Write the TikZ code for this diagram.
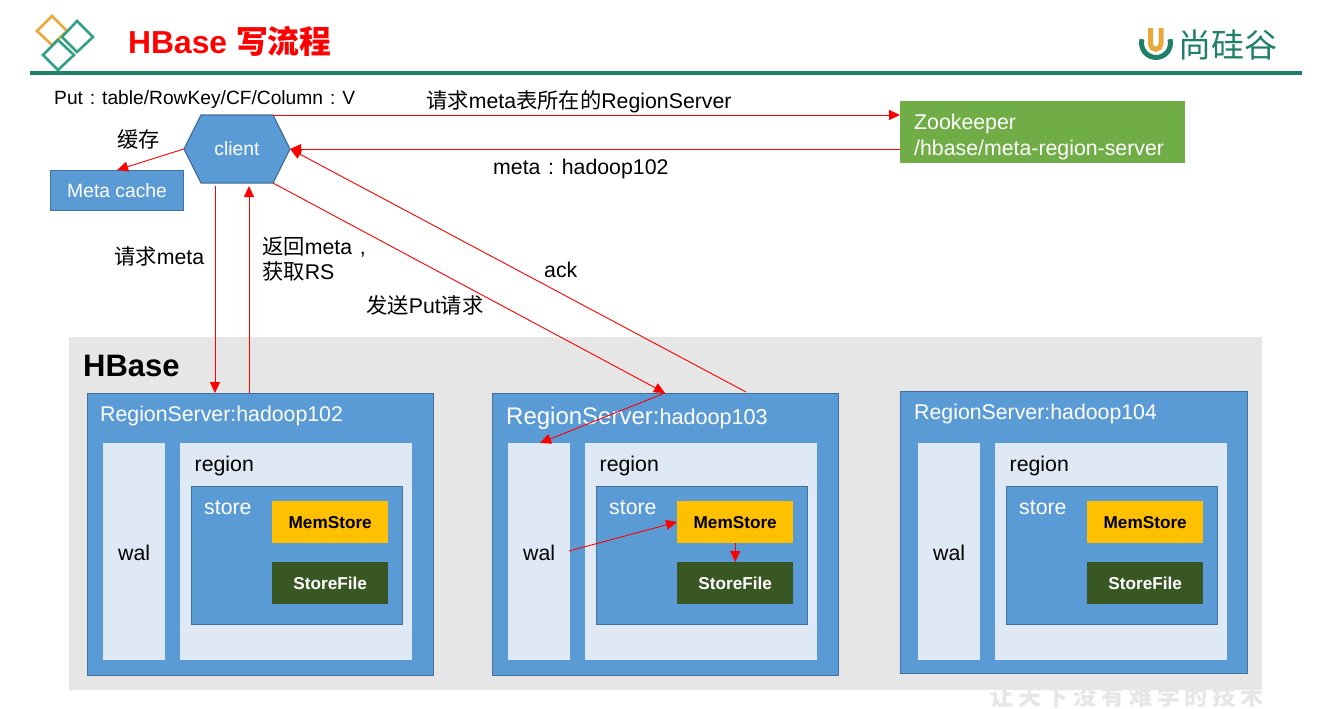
\documentclass[tikz,border=0pt]{standalone}
\usepackage{fontspec}
\setmainfont{Liberation Sans}
\newfontfamily\zh{Noto Sans CJK SC}
\newcommand{\widecolon}{\makebox[1em][c]{:}}
\newcommand{\widecomma}{\makebox[1em][c]{,}}
\usetikzlibrary{arrows.meta}
\definecolor{boxblue}{HTML}{5B9BD5}
\definecolor{boxedge}{HTML}{41719C}
\definecolor{boxlight}{HTML}{DEE9F5}
\definecolor{boxgrey}{HTML}{E7E6E6}
\definecolor{memyellow}{HTML}{FFC000}
\definecolor{filegreen}{HTML}{385723}
\definecolor{zkgreen}{HTML}{70AD47}
\definecolor{logoteal}{HTML}{1F7F68}
\definecolor{logomark}{HTML}{35A088}
\definecolor{logoorange}{HTML}{E8A93A}
\definecolor{marktext}{HTML}{E6E6E6}
\tikzset{
    label text/.style={anchor=west, inner sep=0pt, font=\fontsize{21.3}{21.3}\selectfont},
    white text/.style={label text, text=white},
    blue box/.style={draw=boxedge, fill=boxblue, line width=1.2pt, anchor=north west, inner sep=0pt},
    light box/.style={fill=boxlight, anchor=north west, inner sep=0pt},
    bold box/.style={anchor=north west, inner sep=0pt, minimum width=116pt, minimum height=42pt, font=\fontsize{17.2}{17.2}\selectfont\bfseries},
    flow/.style={draw=red, line width=0.9pt, -{Triangle[length=11pt,width=10pt]}},
    pics/server inner/.style={
        code={
            \node[light box, minimum width=62pt, minimum height=217pt] (-wal) at (0,0) {};
            \node[light box, minimum width=232pt, minimum height=217pt] (-region) at (77,0) {};
            \node[blue box, minimum width=211pt, minimum height=138pt] (-store) at (87.5,43) {};
            \node[bold box, fill=memyellow] (-mem) at (169,58) {MemStore};
            \node[bold box, fill=filegreen, text=white] (-file) at (169,119) {StoreFile};
            \node[label text] (-waltext) at (15,110) {wal};
            \node[label text] (-regiontext) at (91.5,23) {region};
            \node[white text] (-storetext) at (101,65) {store};
        }},
}
\begin{document}
\begin{tikzpicture}[x=1pt, y=-1pt]

    \useasboundingbox (0,0) rectangle (1320,709);

    % title bar
    \draw[logoorange, line width=2.6pt] (52,16) -- (67,31) -- (52,45) -- (37,31) -- cycle;
    \draw[logomark, line width=2.6pt] (77,21) -- (93,37) -- (77,52) -- (62,37) -- cycle;
    \draw[logomark, line width=2.6pt] (58,40) -- (74,55) -- (58,70) -- (43,55) -- cycle;
    \fill[logoteal] (30,71) rectangle (1302,75);
    \node[anchor=west, inner sep=0pt, text=red, font=\fontsize{31.8}{31.8}\selectfont\bfseries] (title) at (128,41) {HBase {\zh\bfseries 写流程}};

    \draw[logoteal, line width=5pt] (1142,39.2) arc [start angle=195, end angle=-15, radius=14.5];
    \draw[logoorange, line width=5pt] (1150.5,28) -- (1150.5,44) arc [start angle=180, end angle=0, radius=5.25] -- (1161,28);
    \node[anchor=west, inner sep=0pt, text=logoteal, font=\zh\fontsize{33}{33}\selectfont] (brand) at (1178,45) {尚硅谷};

    % hbase area
    \fill[boxgrey] (69,337) rectangle (1262,690);
    \node[anchor=west, inner sep=0pt, font=\fontsize{31}{31}\selectfont\bfseries] (hbase) at (83,366) {HBase};

    \node[blue box, minimum width=346pt, minimum height=282pt] (rsa) at (87,393) {};
    \node[blue box, minimum width=346pt, minimum height=282pt] (rsb) at (492,393) {};
    \node[blue box, minimum width=347pt, minimum height=282pt] (rsc) at (900,391) {};

    \node[white text] (rsatext) at (100,416) {RegionServer:hadoop102};
    \node[white text] (rsbtext) at (506,418.5) {\fontsize{24}{24}\selectfont RegionServer:\fontsize{21.6}{21.6}\selectfont hadoop103};
    \node[white text] (rsctext) at (914,414) {RegionServer:hadoop104};

    \pic (a) at (103,443) {server inner};
    \pic (b) at (508,443) {server inner};
    \pic (c) at (918,443) {server inner};

    % client side
    \draw[draw=boxedge, fill=boxblue, line width=1.2pt] (184,149) -- (201,115) -- (273,115) -- (290,149) -- (273,183) -- (201,183) -- cycle;
    \node[minimum width=106pt, minimum height=68pt, inner sep=0pt, text=white, font=\fontsize{19.3}{19.3}\selectfont] (client) at (237,149) {client};
    \node[blue box, minimum width=133pt, minimum height=40pt, text=white, font=\fontsize{19.3}{19.3}\selectfont] (cache) at (50,170) {Meta cache};
    \node[fill=zkgreen, anchor=north west, minimum width=285pt, minimum height=62pt] (zk) at (900,101) {};
    \node[white text, align=left, font=\fontsize{21.3}{26}\selectfont] (zktext) at (914,137) {Zookeeper\\/hbase/meta-region-server};

    \coordinate (clientne) at (273,115);
    \coordinate (clientse) at (273,183);
    \coordinate (clientdown) at (215,186);
    \coordinate (clientup) at (249,186);
    \coordinate (zkin) at (900,115);
    \coordinate (zkout) at (900,149);
    \coordinate (rsadown) at (215,393);
    \coordinate (rsaup) at (249,393);
    \coordinate (rsbin) at (665,393);
    \coordinate (rsbout) at (746,392);
    \coordinate (walin) at (540,443);
    \coordinate (walout) at (569,551);
    \coordinate (memin) at (677,522);

    \draw[flow] (clientne) -- (zkin);
    \draw[flow] (zkout) -- (client.east);
    \draw[flow] (client.west) -- (cache.north);
    \draw[flow] (clientdown) -- (rsadown);
    \draw[flow] (rsaup) -- (clientup);
    \draw[flow] (clientse) -- (rsbin);
    \draw[flow] (rsbout) -- (client.east);
    \draw[flow] (rsbin) -- (walin);
    \draw[flow] (walout) -- (memin);
    \draw[flow] (b-mem.south) -- (b-file.north);

    % labels
    \node[label text, font=\fontsize{19.2}{19.2}\selectfont] (puttext) at (54,100) {Put\widecolon table/RowKey/CF/Column\widecolon V};
    \node[label text] (asktext) at (426,101.5) {{\zh 请求}meta{\zh 表所在的}RegionServer};
    \node[label text] (metatext) at (493,169) {meta\widecolon hadoop102};
    \node[label text] (cachetext) at (117,139) {\zh 缓存};
    \node[label text] (reqtext) at (114,256) {{\zh 请求}meta};
    \node[label text, align=left, font=\fontsize{21.3}{25}\selectfont] (backtext) at (262,259) {{\zh 返回}meta\widecomma\\{\zh 获取}RS};
    \node[label text] (puttwotext) at (366,305) {{\zh 发送}Put{\zh 请求}};
    \node[label text] (acktext) at (544,270) {ack};

    \node[anchor=west, inner sep=0pt, text=marktext, font=\zh\fontsize{23}{23}\selectfont\bfseries\addfontfeature{LetterSpace=21}] (marktext) at (990,697) {让天下没有难学的技术};

\end{tikzpicture}
\end{document}
